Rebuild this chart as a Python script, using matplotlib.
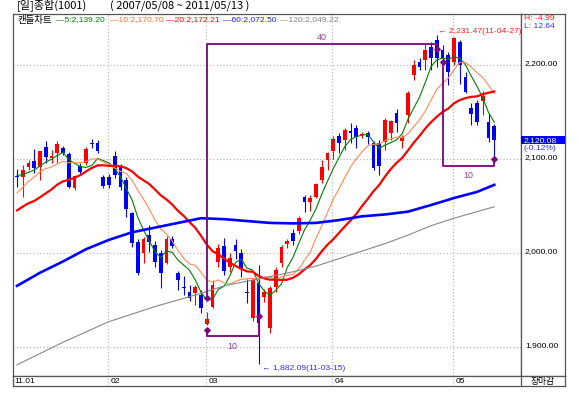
import matplotlib
matplotlib.use("Agg")
import matplotlib.pyplot as plt
import numpy as np
import pandas as pd
from matplotlib.patches import Rectangle

# daily candles, 2011-01-10 .. 2011-05-13
opens = [2082, 2081, 2091, 2098, 2091, 2113, 2101, 2106, 2112, 2105, 2069, 2093, 2096, 2117, 2117, 2081,
         2081, 2103, 2092, 2078, 2043, 2012, 2000, 2019, 2009, 2000, 1989, 2015, 1979, 1964, 1959, 1957, 1955,
         1924, 1943, 1990, 2007, 1985, 2009, 2000, 1958, 1931, 1968, 1953, 1920, 1964, 1989, 2010, 2021, 2023,
         2060, 2054, 2060, 2078, 2099,
         2108, 2124, 2120, 2130, 2133, 2126, 2128, 2117, 2117, 2118, 2128, 2149, 2119, 2147, 2189, 2203, 2205,
         2219, 2227, 2216, 2211,
         2203, 2224, 2187, 2154, 2160, 2162, 2139, 2135]
highs = [2089, 2094, 2099, 2111, 2108, 2119, 2110, 2119, 2114, 2107, 2083, 2096, 2113, 2121, 2120, 2083,
         2084, 2108, 2095, 2081, 2044, 2015, 2017, 2030, 2013, 2003, 2018, 2018, 1981, 1975, 1966, 1966, 1961,
         1937, 1971, 2010, 2016, 2000, 2015, 2004, 1972, 1973, 1987, 1962, 1965, 1985, 2008, 2015, 2025, 2039,
         2062, 2062, 2074, 2099, 2107,
         2124, 2128, 2133, 2138, 2136, 2129, 2130, 2119, 2120, 2144, 2142, 2153, 2126, 2172, 2205, 2208, 2222,
         2225, 2231.47, 2221, 2214,
         2230, 2227, 2193, 2160, 2163, 2172, 2149, 2137]
lows = [2070, 2060, 2088, 2085, 2078, 2096, 2096, 2096, 2104, 2069, 2067, 2084, 2094, 2112, 2106, 2069,
        2069, 2080, 2067, 2038, 2006, 1977, 1989, 2001, 1985, 1963, 1988, 2005, 1961, 1955, 1949, 1945, 1936,
        1923, 1941, 1985, 1977, 1980, 1994, 1974, 1947, 1928, 1882.09, 1948, 1915, 1959, 1985, 2005, 2008, 2020,
        2044, 2045, 2058, 2075, 2088,
        2100, 2106, 2110, 2117, 2112, 2122, 2116, 2088, 2083, 2110, 2120, 2129, 2112, 2138, 2184, 2195, 2195,
        2195, 2198, 2200, 2179,
        2200, 2180, 2170, 2136, 2136, 2147, 2118, 2101]
closes = [2081, 2088, 2096, 2090, 2108, 2102, 2103, 2116, 2106, 2070, 2082, 2086, 2111, 2116, 2108, 2071,
          2072, 2083, 2070, 2047, 2011, 1979, 2015, 2012, 1990, 1979, 2015, 2007, 1971, 1963, 1952, 1964, 1941,
          1930, 1966, 2005, 1981, 1995, 2002, 1984, 1957, 1971, 1926, 1959, 1963, 1982, 2006, 2013, 2013, 2037,
          2054, 2058, 2073, 2091, 2106,
          2121, 2117, 2131, 2128, 2123, 2127, 2123, 2090, 2093, 2141, 2140, 2138, 2123, 2170, 2200, 2198, 2216,
          2207, 2207, 2208, 2193,
          2229, 2200, 2171, 2148, 2139, 2167, 2122.6, 2120.08]
# closes before the visible window (for the short moving averages)
prev_closes = [2008, 2024, 2041, 2030, 2019, 2020, 2013, 2036, 2038, 2040,
               2028, 2033, 2043, 2051, 2070, 2085, 2083, 2078, 2086]

# long moving averages at some bars
ma_bars = [0, 4, 8, 12, 16, 20, 24, 28, 32, 36, 40, 44, 48, 52, 56, 60, 64, 68, 72, 76, 80, 83]
ma60 = [1965, 1979, 1991, 2004, 2014, 2022, 2027, 2032, 2037, 2036, 2034, 2032, 2031.5, 2032, 2035,
        2039, 2041, 2044, 2051, 2058.5, 2065, 2072.5]
ma120 = [1881, 1893, 1905, 1916, 1927, 1935, 1943, 1950, 1957, 1965, 1970, 1975, 1980, 1986, 1994,
         2002, 2010, 2019, 2029, 2037, 2044, 2049.2]

ma_names = ['5', '10', '20', '60', '120']
ma_last = [2139.20, 2170.70, 2172.21, 2072.50, 2049.22]
ma_colors = ['#008000', '#ff8a55', '#ff0000', '#0000ff', '#888888']
ma_text_colors = ['#008000', '#ff7030', '#ff0000', '#2020ff', '#808080']

month_labels = ['11.01', '02', '03', '04', '05']
month_start = [0, 16, 33, 55, 76]
price_ticks = [1900, 2000, 2100, 2200]

hi_idx, lo_idx = 73, 42
# period counting boxes: start bar, end bar, start level, line level, end level, label, label level
count_boxes = [
    (33, 73, 1952, 2222.3, 2217, '40', 2229),
    (33, 42, 1918, 1911.7, 1933, '10', 1900),
    (74, 83, 2203, 2092.6, 2100, '10', 2082),
]

NUM = 'Liberation Sans'
KR = ['Noto Sans CJK KR', 'DejaVu Sans']
FS = 6.1

W, H = 580, 401
fig = plt.figure(figsize=(W / 100, H / 100), dpi=100)


def box(x0, y0, x1, y1):
    return [x0 / W, 1 - y1 / H, (x1 - x0) / W, (y1 - y0) / H]


def ftext(x, y, s, **kw):
    fig.text(x / W, 1 - y / H, s, va='center', ha='left', **kw)


ax = fig.add_axes(box(13, 14, 521, 376))
axr = fig.add_axes(box(521, 14, 565, 376))
axd = fig.add_axes(box(13, 376, 565, 386))

ymin, ymax = 1869.1, 2254.3
ax.set_xlim(-0.7, 87.65)
ax.set_ylim(ymin, ymax)
axr.set_xlim(0, 1)
axr.set_ylim(ymin, ymax)
axd.set_xlim(-0.7, 87.65 + 44 / 5.75)
axd.set_ylim(0, 1)
for a in (ax, axr, axd):
    a.set_xticks([])
    a.set_yticks([])
    for s in a.spines.values():
        s.set_color('#555555')
        s.set_linewidth(0.9)

# grid
for p in price_ticks:
    ax.axhline(p, color='#b4b4b4', lw=0.8, ls=(0, (1, 2)), zorder=0)
for m in month_start[1:]:
    ax.axvline(m - 0.15, color='#b4b4b4', lw=0.8, ls=(0, (1, 2)), zorder=0)
    axd.axvline(m - 0.15, color='#b4b4b4', lw=0.8, ls=(0, (1, 2)))

# candles
x = np.arange(len(closes))
o = np.array(opens, float)
c = np.array(closes, float)
up = c >= o
col = np.where(up, '#ff0000', '#0000ff')
ax.vlines(x, lows, highs, colors=col, lw=0.8, zorder=2)
body = np.maximum(np.abs(c - o), 0.9)
ax.bar(x, body, bottom=np.minimum(o, c), width=0.68, color=col, lw=0, zorder=3)

# moving averages
all_close = pd.Series(prev_closes + closes)
n0 = len(prev_closes)
for name, colr, lw in [('5', ma_colors[0], 0.8), ('10', ma_colors[1], 0.8), ('20', ma_colors[2], 1.6)]:
    ma = all_close.rolling(int(name)).mean().to_numpy()[n0:]
    ax.plot(x, ma, color=colr, lw=lw, zorder=4)
ax.plot(ma_bars, ma60, color=ma_colors[3], lw=1.9, zorder=4)
ax.plot(ma_bars, ma120, color=ma_colors[4], lw=0.8, zorder=4)

# period counting boxes
purple = '#800080'
for s, e, y0, y1, y2, lab, ly in count_boxes:
    ax.plot([s, s, e, e], [y0, y1, y1, y2], color=purple, lw=1.3, zorder=5)
    ax.plot([s, e], [y0, y2], ls='none', marker='D', ms=2.8, color=purple, zorder=6)
    ax.text((s + e) / 2, ly, lab, color='#9a3a9a', fontsize=FS + 0.3, family=NUM,
            ha='center', va='center', zorder=6)

# high / low notes
ax.text(hi_idx + 0.2, highs[hi_idx] + 4.5, f"\u2190 {highs[hi_idx]:,.2f}(11-04-27)", color='#ff2020',
        fontsize=FS, family=NUM, ha='left', va='center', zorder=6)
ax.text(lo_idx + 0.6, lows[lo_idx] - 5.5, f"\u2190 {lows[lo_idx]:,.2f}(11-03-15)", color='#3030ff',
        fontsize=FS, family=NUM, ha='left', va='center', zorder=6)

# right price scale
for p in price_ticks:
    axr.text(0.09, p + 1.5, f"{p:,.2f}", fontsize=FS, family=NUM, va='center', ha='left')
last = closes[-1]
axr.add_patch(Rectangle((0, last - 4.6), 1, 9.2, color='#0000ff', lw=0, zorder=3))
axr.text(0.06, last, f"{last:,.2f}", color='white', fontsize=FS, family=NUM,
         va='center', ha='left', zorder=4)
axr.text(0.06, last - 8.5, "(-0.12%)", color='#3030ff', fontsize=FS, family=NUM,
         va='center', ha='left', zorder=4)
ftext(524, 18, 'H: -4.99', color='#ff2020', fontsize=FS, family=NUM)
ftext(524, 27, 'L: 12.64', color='#3030ff', fontsize=FS, family=NUM)

# date row
for lab, m in zip(month_labels, month_start):
    axd.text(m + 0.25 if m else -0.4, 0.45, lab, fontsize=FS, family=NUM, va='center', ha='left')
axd.axvline(87.65, color='#555555', lw=0.9)
axd.text(87.65 + 22 / 5.75, 0.45, '장마감', fontsize=6.3, family=KR, va='center', ha='center')

# title and legend
ftext(17, 6.5, '[일]종합(1001)', fontsize=8, family=KR)
ftext(110, 6.5, '( 2007/05/08 ~ 2011/05/13 )', fontsize=8, family=KR)
ftext(17, 20, '캔들차트', fontsize=6.8, family=KR)
leg_x = [56, 110, 166, 223, 280]
for lx, name, v, colr in zip(leg_x, ma_names, ma_last, ma_text_colors):
    ftext(lx, 20, f"\u2014{name}:{v:,.2f}", color=colr, fontsize=FS, family=NUM)

fig.savefig('out.png', dpi=100)
